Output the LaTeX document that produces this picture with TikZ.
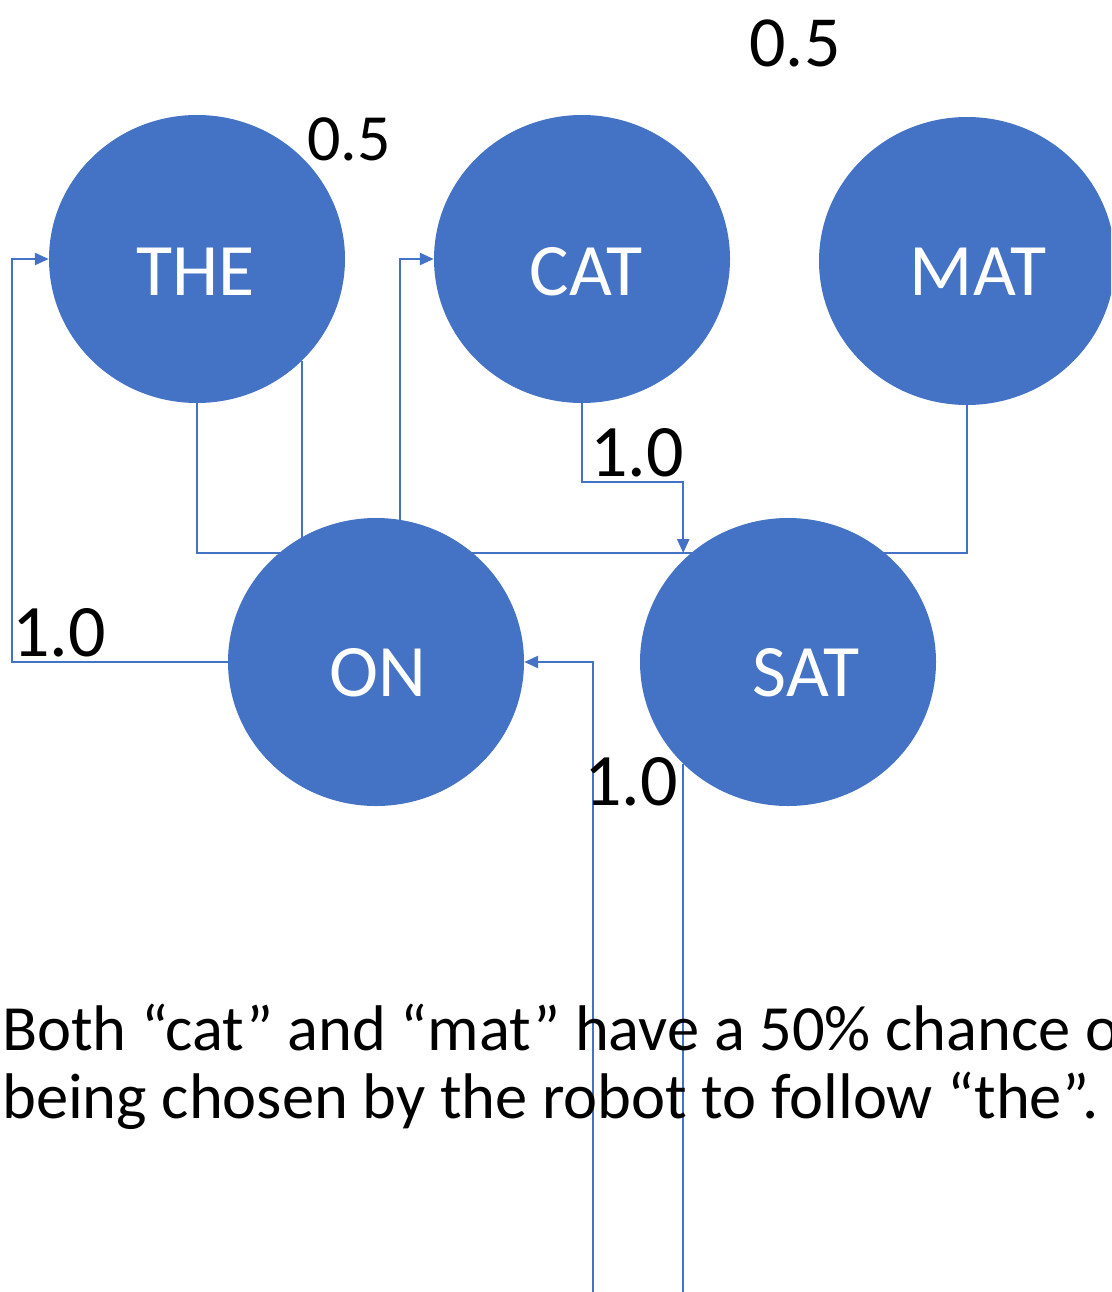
\documentclass[tikz,border=0pt]{standalone}
\usepackage{fontspec}
\setmainfont{Carlito}
\usetikzlibrary{shapes.geometric,arrows.meta,backgrounds,calc}
\definecolor{ppblue}{HTML}{4472C4}
\tikzset{
	wordnode/.style={ellipse, fill=ppblue, minimum width=296pt, minimum height=288pt, inner sep=0pt},
	wordtext/.style={text=white, font=\fontsize{74}{88}\selectfont, inner sep=0pt},
	weight/.style={font=\fontsize{74}{88}\selectfont, inner sep=0pt},
	notetext/.style={anchor=base west, inner sep=0pt, font=\fontsize{64.5}{70}\selectfont},
	link/.style={draw=ppblue, line width=2.5pt},
	arrowed/.style={-{Triangle[length=14pt,width=12pt]}}
}
\begin{document}
\begin{tikzpicture}[x=1pt,y=-1pt]
	\useasboundingbox (0,0) rectangle (1111,1292);
	\clip (0,0) rectangle (1111,1292);
	
	\node[wordnode] (the) at (197,259) {};
	\node[wordnode] (cat) at (582,259) {};
	\node[wordnode] (mat) at (967,261) {};
	\node[wordnode] (on) at (376,662) {};
	\node[wordnode] (sat) at (788,662) {};
	
	\node[wordtext] (thetxt) at (196,272) {THE};
	\node[wordtext] (cattxt) at (586,272) {CAT};
	\node[wordtext] (mattxt) at (978,272) {MAT};
	\node[wordtext] (ontxt) at (378,673) {ON};
	\node[wordtext] (sattxt) at (806,673) {SAT};
	
	\coordinate (satin) at ($(sat.north west)+(0,-7)$);
	\begin{scope}[on background layer]
		\clip (0,0) rectangle (1111,1292);
		\draw[link, arrowed] (on.west) -- +(-216,0) |- (the.west);
		\draw[link] (the.south) |- (satin);
		\draw[link] (the.south east) -- (the.south east |- on.center);
		\draw[link, arrowed] (cat.south) -- +(0,79) -| (satin);
		\draw[link] (mat.south) |- (satin);
		\draw[link, arrowed] ($(on.north)+(24,2)$) |- (cat.west);
		\draw[link, arrowed] (sat.south west) -- +(0,600) -| ($(on.east)+(69,0)$) -- (on.east);
	\end{scope}
	
	\node[weight] (w1) at (59,633) {1.0};
	\node[weight] (w2) at (637,453) {1.0};
	\node[weight] (w3) at (631,782) {1.0};
	\node[weight, font=\fontsize{66}{79}\selectfont] (w4) at (349,139) {0.5};
	\node[weight, font=\fontsize{72}{86}\selectfont] (w5) at (795,43) {0.5};
	
	\node[notetext] (note1) at (2,1050) {Both “cat” and “mat” have a 50\% chance of};
	\node[notetext] (note2) at (2,1118) {being chosen by the robot to follow “the”.};
\end{tikzpicture}
\end{document}
